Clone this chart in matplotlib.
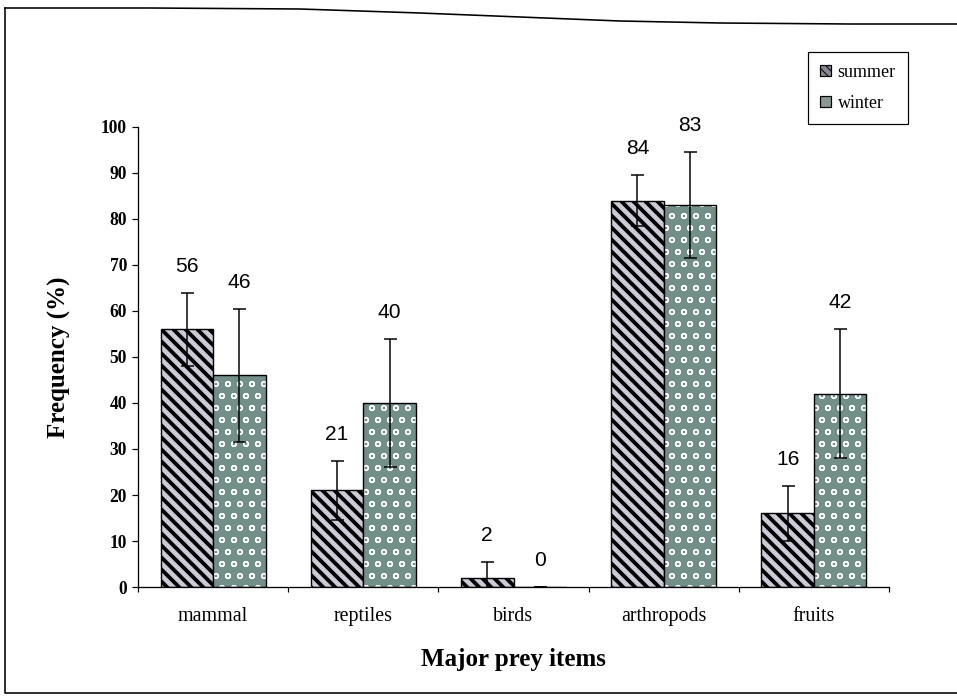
#! /usr/bin/env python3

# Frequency of major prey items in summer and winter diet samples.

import numpy as np
import matplotlib
matplotlib.use('Agg')
import matplotlib.pyplot as plt
from matplotlib.patches import Patch
from matplotlib.lines import Line2D

categories = ['mammal', 'reptiles', 'birds', 'arthropods', 'fruits']
summer = [56, 21, 2, 84, 16]
winter = [46, 40, 0, 83, 42]
summer_err = [8, 6.5, 3.5, 5.5, 6]
winter_err = [14.5, 14, 0, 11.5, 14]
yticks = [0, 10, 20, 30, 40, 50, 60, 70, 80, 90, 100]

serif = 'Liberation Serif'
sans = 'Liberation Sans'
summer_face = '#cdcad8'
winter_face = '#728f8a'

# dpi 72 so the hatch unit (72 pt) is 72 px wide
dpi = 72
fig = plt.figure(figsize=(957 / dpi, 698 / dpi), dpi=dpi)
ax = fig.add_axes([138 / 957, 1 - 587 / 698, (889 - 138) / 957, (587 - 127) / 698])

x = np.arange(len(categories))
w = 0.35

# Summer: black diagonal stripes on light grey.
sb = ax.bar(x - w / 2, summer, w, color=summer_face, edgecolor='black',
            hatch='\\\\', linewidth=1.4, zorder=2)
for p in sb:
    if hasattr(p, 'set_hatch_linewidth'):
        p.set_hatch_linewidth(3.8)

# Winter: white rings on grey-green, with a black outline drawn on top.
wb = ax.bar(x + w / 2, winter, w, color=winter_face, edgecolor='white',
            hatch='o', linewidth=0, zorder=2)
for p in wb:
    if hasattr(p, 'set_hatch_linewidth'):
        p.set_hatch_linewidth(1.2)
ax.bar(x + w / 2, winter, w, facecolor='none', edgecolor='black',
       linewidth=1.4, zorder=3)

ax.errorbar(x - w / 2, summer, yerr=summer_err, fmt='none', ecolor='black',
            elinewidth=1.5, capsize=6.5, capthick=1.5, zorder=4)
ax.errorbar(x + w / 2, winter, yerr=winter_err, fmt='none', ecolor='black',
            elinewidth=1.5, capsize=6.5, capthick=1.5, zorder=4)

# Value labels above each error bar.
for xs, vals, errs in ((x - w / 2, summer, summer_err), (x + w / 2, winter, winter_err)):
    for xi, v, e in zip(xs, vals, errs):
        ax.annotate(str(v), (xi, v + e), xytext=(0, 17), textcoords='offset points',
                    ha='center', va='bottom', fontsize=21, family=sans)

ax.set_xlim(-0.5, len(categories) - 0.5)
ax.set_ylim(0, 100)
ax.set_yticks(yticks)
ax.set_yticklabels([str(t) for t in yticks], family=serif, fontweight='bold', fontsize=17.5)
ax.set_xticks(x)
ax.set_xticklabels(categories, family=serif, fontsize=20)
ax.set_xticks(np.arange(len(categories) + 1) - 0.5, minor=True)
ax.tick_params(axis='x', which='major', length=0, pad=20)
ax.tick_params(axis='x', which='minor', length=5, width=1.2, direction='out')
ax.tick_params(axis='y', length=6, width=1.2, direction='out', pad=5)

for spine in 'right', 'top':
    ax.spines[spine].set_visible(False)
for spine in 'left', 'bottom':
    ax.spines[spine].set_linewidth(1.3)

ax.set_ylabel('Frequency (%)', family=serif, fontweight='bold', fontsize=25, labelpad=30)
ax.set_xlabel('Major prey items', family=serif, fontweight='bold', fontsize=25, labelpad=22)

handles = [Patch(facecolor='#8a8896', edgecolor='black', hatch='\\\\\\', linewidth=1.2),
           Patch(facecolor='#8a9894', edgecolor='black', linewidth=1.2)]
leg = fig.legend(handles, ['summer', 'winter'], loc='upper left',
                 bbox_to_anchor=(808 / 957, 1 - 52 / 698), bbox_transform=fig.transFigure,
                 prop={'family': serif, 'size': 18}, fancybox=False, edgecolor='black',
                 framealpha=1, handlelength=0.6, handleheight=0.6, handletextpad=0.4,
                 labelspacing=0.8, borderpad=0.65, borderaxespad=0)
leg.get_frame().set_linewidth(1.2)

# Page frame around the chart.
W, H = 957, 698
fx = [5, 5, 957]
fy = [8, 693, 693]
fig.add_artist(Line2D([v / W for v in fx], [1 - v / H for v in fy], color='black', lw=1.6))
tx = [5, 150, 300, 420, 520, 620, 720, 850, 957]
ty = [8, 8, 9, 13, 17, 21, 23, 24, 24]
fig.add_artist(Line2D([v / W for v in tx], [1 - v / H for v in ty], color='black', lw=1.6))

fig.savefig('out.png', dpi=dpi, facecolor='white')
